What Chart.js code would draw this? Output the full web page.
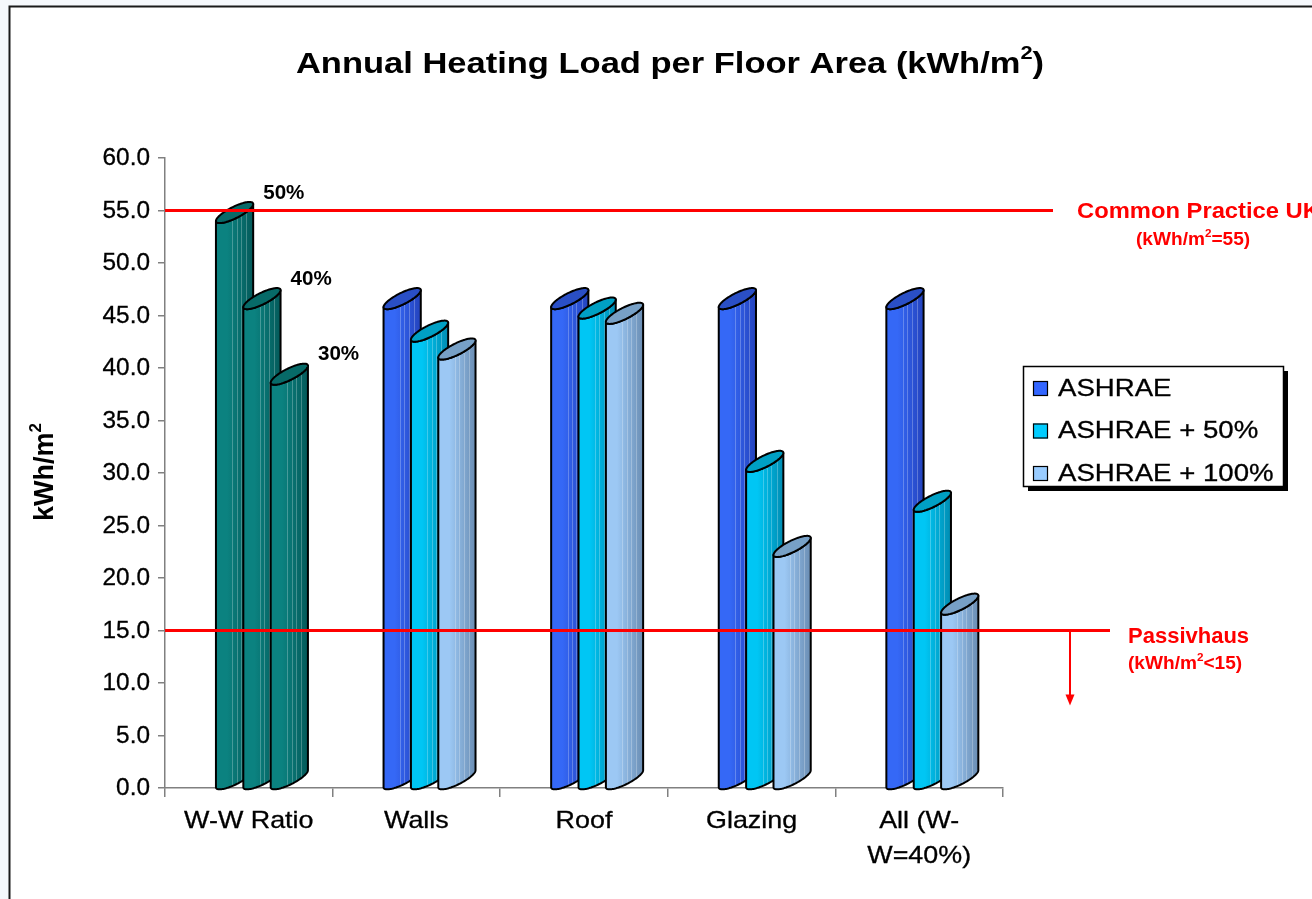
<!DOCTYPE html>
<html>
<head>
<meta charset="utf-8">
<script src="https://cdn.jsdelivr.net/npm/chart.js@4.4.1/dist/chart.umd.min.js"></script>
<style>
  html, body { margin: 0; padding: 0; background: #ffffff; }
  canvas { display: block; }
</style>
</head>
<body>
<canvas id="chart" width="1312" height="899"></canvas>
<script>
// ---- data ----
const categories = ['W-W Ratio', 'Walls', 'Roof', 'Glazing', ['All (W-', 'W=40%)']];
const seriesNames = ['ASHRAE', 'ASHRAE + 50%', 'ASHRAE + 100%'];
const ashrae      = [54.0, 45.8, 45.8, 45.8, 45.8];
const ashrae50    = [45.8, 42.7, 44.9, 30.3, 26.5];
const ashrae100   = [38.6, 41.0, 44.4, 22.2, 16.7];
const ratioLabels = ['50%', '40%', '30%'];   // window-to-wall ratios of the first group
const yMin = 0, yMax = 60, yStep = 5;
const commonPracticeUK = 55;
const passivhaus = 15;

// ---- styles ----
const FONT = '"Liberation Sans", Arial, Helvetica, sans-serif';
const shades = {
  blue:  { legend: '#3366ff', left: '#3568f6', right: '#2443bd', top: '#2a4fc6' },
  cyan:  { legend: '#00ccff', left: '#00c6f4', right: '#008cb2', top: '#00a0c4' },
  light: { legend: '#99ccff', left: '#9cc8f4', right: '#6a8db3', top: '#77a0c6' },
  teal:  { legend: '#007777', left: '#0b8280', right: '#045a5a', top: '#076a68' }
};
const seriesShade = ['blue', 'cyan', 'light'];
const ratioShade = 'teal';

function drawText(ctx, str, x, y, o) {
  const sx = o.sx || 1;
  ctx.save();
  ctx.font = (o.bold ? 'bold ' : '') + o.size + 'px ' + FONT;
  ctx.fillStyle = o.color || '#000';
  ctx.textBaseline = o.baseline || 'middle';
  ctx.textAlign = 'left';
  const w = ctx.measureText(str).width * sx;
  const x0 = o.align === 'center' ? x - w / 2 : o.align === 'right' ? x - w : x;
  ctx.translate(x0, y);
  ctx.scale(sx, 1);
  ctx.fillText(str, 0, 0);
  if (o.weight) {                      // slightly heavier strokes
    ctx.strokeStyle = o.color || '#000';
    ctx.lineWidth = o.weight;
    ctx.strokeText(str, 0, 0);
  }
  ctx.restore();
  return w;
}

// text made of runs, some of them superscript
function drawRuns(ctx, runs, x, y, o) {
  const sx = o.sx || 1;
  const supSize = Math.round(o.size * 0.62);
  let total = 0;
  ctx.save();
  runs.forEach(r => {
    ctx.font = (o.bold ? 'bold ' : '') + (r.sup ? supSize : o.size) + 'px ' + FONT;
    r.w = ctx.measureText(r.t).width * sx;
    total += r.w;
  });
  ctx.restore();
  let cx = o.align === 'center' ? x - total / 2 : x;
  runs.forEach(r => {
    drawText(ctx, r.t, cx, r.sup ? y - o.size * 0.36 : y,
      { size: r.sup ? supSize : o.size, bold: o.bold, color: o.color, sx: sx, weight: o.weight });
    cx += r.w;
  });
  return total;
}

// oblique cylinder: front-left top corner at (xL, yTop), depth shifts by (W, -H) across the ellipse
function drawCylinder(ctx, xL, yTop, yBase, W, H, k, sh) {
  const pt = (y, t) => [xL + W / 2 + (W / 2) * Math.cos(t), y - H / 2 - (H / 2) * Math.cos(t) + k * Math.sin(t)];
  const N = 48;
  const body = new Path2D();
  let p = pt(yBase, Math.PI);
  body.moveTo(p[0], p[1]);
  for (let i = N - 1; i >= 0; i--) { p = pt(yBase, Math.PI * i / N); body.lineTo(p[0], p[1]); }
  p = pt(yTop, 0); body.lineTo(p[0], p[1]);
  for (let i = 1; i <= N; i++) { p = pt(yTop, Math.PI * i / N); body.lineTo(p[0], p[1]); }
  body.closePath();

  const g = ctx.createLinearGradient(xL, 0, xL + W, 0);
  g.addColorStop(0, sh.left);
  g.addColorStop(0.3, sh.left);
  g.addColorStop(1, sh.right);
  ctx.save();
  ctx.fillStyle = g;
  ctx.fill(body);
  ctx.clip(body);
  ctx.strokeStyle = 'rgba(255,255,255,0.25)';
  ctx.lineWidth = 1;
  [0.44, 0.56, 0.68, 0.82].forEach(f => {
    const sxp = Math.round(xL + W * f) + 0.5;
    ctx.beginPath(); ctx.moveTo(sxp, yTop - H - 10); ctx.lineTo(sxp, yBase + 10); ctx.stroke();
  });
  ctx.restore();

  ctx.save();
  ctx.lineJoin = 'round';
  ctx.strokeStyle = '#000';
  ctx.lineWidth = 2;
  ctx.stroke(body);
  const top = new Path2D();
  for (let i = 0; i <= 2 * N; i++) {
    p = pt(yTop, Math.PI * i / N);
    if (i === 0) top.moveTo(p[0], p[1]); else top.lineTo(p[0], p[1]);
  }
  top.closePath();
  ctx.fillStyle = sh.top;
  ctx.fill(top);
  ctx.stroke(top);
  ctx.restore();
}

const cylinderPlugin = {
  id: 'cylinders',
  beforeDatasetDraw() { return false; },
  afterDatasetsDraw(chart) {
    const ctx = chart.ctx;
    const metas = chart.data.datasets.map((d, i) => chart.getDatasetMeta(i));
    for (let i = 0; i < categories.length; i++) {
      metas.forEach((meta, d) => {
        const el = meta.data[i];
        const bw = el.width;
        const W = bw * 1.36, H = bw * 0.62, k = bw * 0.23;
        const xL = el.x - bw / 2 + bw * 0.3;
        const sh = shades[i === 0 ? ratioShade : seriesShade[d]];
        drawCylinder(ctx, xL, el.y, el.base, W, H, k, sh);
        if (i === 0) {
          drawText(ctx, ratioLabels[d], xL + W + 10, el.y - H - 11, { size: 20, bold: true, sx: 1.03 });
        }
      });
    }
  }
};

const decorPlugin = {
  id: 'decor',
  beforeDraw(chart) {
    const ctx = chart.ctx;
    ctx.save();
    ctx.fillStyle = '#f5f8fc';
    ctx.fillRect(0, 0, chart.width, chart.height);
    ctx.fillStyle = '#ffffff';
    ctx.fillRect(10, 7, chart.width, chart.height);
    ctx.strokeStyle = '#1a1a1a';
    ctx.lineWidth = 2;
    ctx.beginPath();
    ctx.moveTo(9.5, chart.height + 5); ctx.lineTo(9.5, 6.5); ctx.lineTo(chart.width + 5, 6.5);
    ctx.stroke();
    ctx.restore();
  },
  afterDraw(chart) {
    const ctx = chart.ctx;
    const ca = chart.chartArea;
    const xs = chart.scales.x, ys = chart.scales.y;

    // title
    drawRuns(ctx, [{ t: 'Annual Heating Load per Floor Area (kWh/m' }, { t: '2', sup: true }, { t: ')' }],
      670, 65, { size: 30, bold: true, align: 'center', sx: 1.15 });

    // value axis title
    ctx.save();
    ctx.translate(46, 472);
    ctx.rotate(-Math.PI / 2);
    drawRuns(ctx, [{ t: 'kWh/m' }, { t: '2', sup: true }], 0, 0, { size: 27, bold: true, align: 'center' });
    ctx.restore();

    // tick labels
    ys.ticks.forEach(t => {
      drawText(ctx, t.value.toFixed(1), ca.left - 15, ys.getPixelForValue(t.value) + 1,
        { size: 23, align: 'right', sx: 1.06, weight: 0.3 });
    });
    categories.forEach((c, i) => {
      const lines = Array.isArray(c) ? c : [c];
      const x = xs.getPixelForTick(i);
      lines.forEach((ln, j) => drawText(ctx, ln, x, ca.bottom + 33 + j * 35,
        { size: 24, align: 'center', sx: 1.12, weight: 0.3 }));
    });

    // reference levels
    const red = '#ff0000';
    const y55 = ys.getPixelForValue(commonPracticeUK);
    const y15 = ys.getPixelForValue(passivhaus);
    ctx.save();
    ctx.strokeStyle = red;
    ctx.lineWidth = 3;
    ctx.beginPath(); ctx.moveTo(ca.left, y55); ctx.lineTo(ca.right + 50, y55); ctx.stroke();
    ctx.beginPath(); ctx.moveTo(ca.left, y15); ctx.lineTo(ca.right + 107, y15); ctx.stroke();
    const ax = ca.right + 67;
    ctx.lineWidth = 2;
    ctx.beginPath(); ctx.moveTo(ax, y15); ctx.lineTo(ax, y15 + 66); ctx.stroke();
    ctx.fillStyle = red;
    ctx.beginPath(); ctx.moveTo(ax - 4.5, y15 + 64); ctx.lineTo(ax + 4.5, y15 + 64); ctx.lineTo(ax, y15 + 75); ctx.closePath(); ctx.fill();
    ctx.restore();

    drawText(ctx, 'Common Practice UK', ca.right + 74, y55 + 1, { size: 22, bold: true, color: red, sx: 1.08 });
    drawRuns(ctx, [{ t: '(kWh/m' }, { t: '2', sup: true }, { t: '=55)' }], ca.right + 133, y55 + 30,
      { size: 18, bold: true, color: red, sx: 1.06 });
    drawText(ctx, 'Passivhaus', ca.right + 125, y15 + 6, { size: 22, bold: true, color: red, sx: 1.0 });
    drawRuns(ctx, [{ t: '(kWh/m' }, { t: '2', sup: true }, { t: '<15)' }], ca.right + 125, y15 + 34,
      { size: 18, bold: true, color: red, sx: 1.06 });

    // legend
    const lx = 1023, ly = 366, lw = 260, lh = 120;
    ctx.save();
    ctx.fillStyle = '#000';
    ctx.fillRect(lx + 5, ly + 5, lw, lh);
    ctx.fillStyle = '#fff';
    ctx.fillRect(lx, ly, lw, lh);
    ctx.strokeStyle = '#000';
    ctx.lineWidth = 1.5;
    ctx.strokeRect(lx + 0.5, ly + 0.5, lw, lh);
    ctx.restore();
    seriesNames.forEach((name, d) => {
      const cy = ly + 22 + d * 42.5;
      ctx.save();
      ctx.fillStyle = shades[seriesShade[d]].legend;
      ctx.fillRect(lx + 10, cy - 7, 15, 15);
      ctx.strokeStyle = '#000';
      ctx.lineWidth = 1.2;
      ctx.strokeRect(lx + 10.5, cy - 6.5, 14, 14);
      ctx.restore();
      drawText(ctx, name, lx + 35, cy + 1, { size: 24, sx: 1.15, weight: 0.3 });
    });
  }
};

new Chart(document.getElementById('chart'), {
  type: 'bar',
  data: {
    labels: categories,
    datasets: [
      { label: seriesNames[0], data: ashrae },
      { label: seriesNames[1], data: ashrae50 },
      { label: seriesNames[2], data: ashrae100 }
    ]
  },
  options: {
    responsive: false,
    animation: false,
    devicePixelRatio: 1,
    categoryPercentage: 0.49,
    barPercentage: 1.0,
    layout: { padding: { left: 0, top: 158, right: 309, bottom: 0 } },
    plugins: {
      legend: { display: false },
      title: { display: false },
      tooltip: { enabled: false }
    },
    scales: {
      x: {
        grid: { display: true, drawOnChartArea: false, offset: true, tickLength: 9, color: '#808080', lineWidth: 1.5 },
        border: { display: true, color: '#808080', width: 1.5 },
        ticks: { display: false },
        afterFit: s => { s.height = 111; }
      },
      y: {
        min: yMin, max: yMax,
        ticks: { display: false, stepSize: yStep },
        grid: { display: true, drawOnChartArea: false, tickLength: 7, color: '#808080', lineWidth: 1.5 },
        border: { display: true, color: '#808080', width: 1.5 },
        afterFit: s => { s.width = 165; }
      }
    }
  },
  plugins: [decorPlugin, cylinderPlugin]
});
</script>
</body>
</html>
